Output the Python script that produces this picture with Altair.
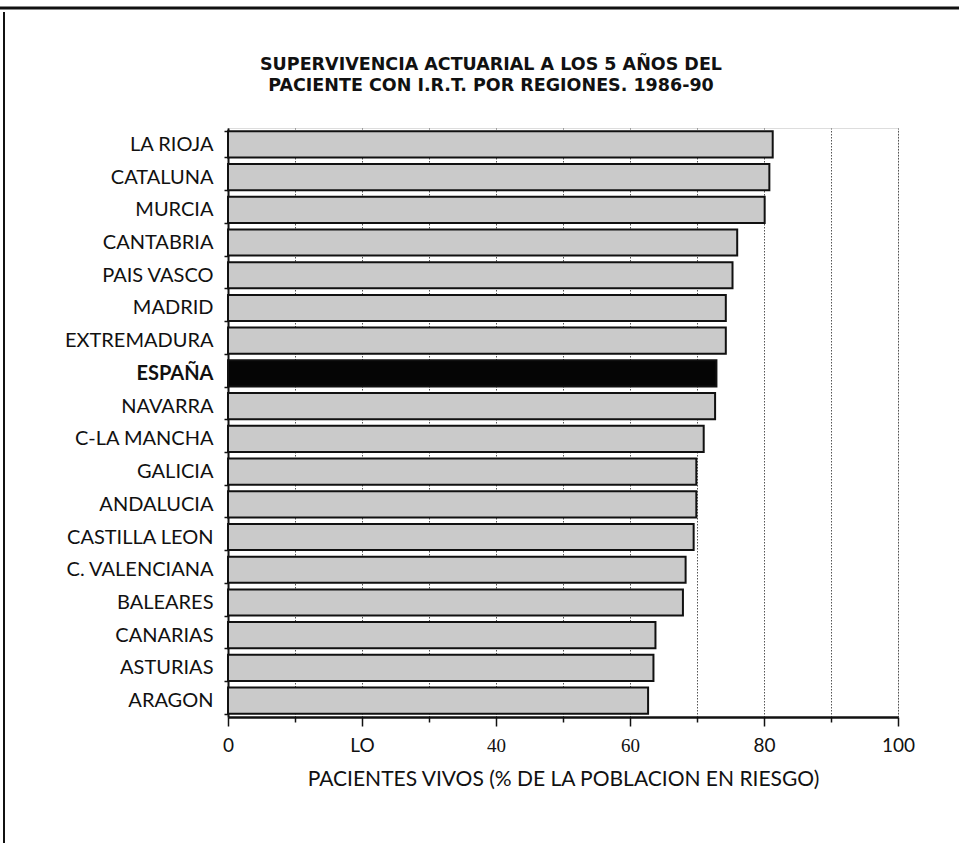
import altair as alt
import pandas as pd

# Five-year actuarial survival of ESRD patients by region, 1986-90
regions = [
    "LA RIOJA", "CATALUNA", "MURCIA", "CANTABRIA", "PAIS VASCO", "MADRID",
    "EXTREMADURA", "ESPAÑA", "NAVARRA", "C-LA MANCHA", "GALICIA", "ANDALUCIA",
    "CASTILLA LEON", "C. VALENCIANA", "BALEARES", "CANARIAS", "ASTURIAS", "ARAGON",
]
survival = [
    81.3, 80.8, 80.1, 76.0, 75.3, 74.3,
    74.3, 72.9, 72.7, 71.0, 69.9, 69.9,
    69.5, 68.3, 67.9, 63.8, 63.5, 62.7,
]
x_ticks = [0, 10, 20, 30, 40, 50, 60, 70, 80, 90, 100]
national = "ESPAÑA"

title_lines = [
    "SUPERVIVENCIA ACTUARIAL A LOS 5 AÑOS DEL",
    "PACIENTE CON I.R.T. POR REGIONES. 1986-90",
]
x_title = "PACIENTES VIVOS (% DE LA POBLACION EN RIESGO)"

W, H = 670, 589
LABEL_FONT = "Lato"

df = pd.DataFrame({"region": regions, "survival": survival})
df["is_national"] = df["region"] == national

bars = alt.Chart(df).mark_bar(stroke="#111111", strokeWidth=2).encode(
    y=alt.Y(
        "region:N",
        sort=None,
        title=None,
        scale=alt.Scale(paddingInner=0.2, paddingOuter=0.1),
        axis=alt.Axis(
            domainColor="#111111",
            domainWidth=2,
            tickBand="extent",
            tickColor="#111111",
            tickSize=4,
            tickWidth=1.5,
            labelFont=LABEL_FONT,
            labelFontSize=20,
            labelColor="#111111",
            labelPadding=11,
            labelFontWeight={
                "condition": {"test": f"datum.value === '{national}'", "value": "bold"},
                "value": "normal",
            },
            grid=False,
        ),
    ),
    x=alt.X(
        "survival:Q",
        title=x_title,
        scale=alt.Scale(domain=[0, 100], nice=False),
        axis=alt.Axis(
            values=x_ticks,
            labelExpr="datum.value % 20 !== 0 ? '' : (datum.value === 20 ? 'LO' : datum.label)",
            labelFont={
                "condition": {"test": "datum.value === 40 || datum.value === 60", "value": "Liberation Serif"},
                "value": LABEL_FONT,
            },
            labelFontSize=19,
            labelColor="#111111",
            labelPadding=10,
            labelFlush=False,
            domainColor="#111111",
            domainWidth=2.5,
            tickColor="#111111",
            tickWidth=1.5,
            tickSize={
                "condition": {"test": "datum.value % 20 === 0", "value": 9},
                "value": 5,
            },
            grid=True,
            gridColor="#555555",
            gridDash=[1.5, 1.5],
            gridWidth=1,
            titleFont=LABEL_FONT,
            titleFontSize=21,
            titleFontWeight="normal",
            titleColor="#111111",
            titlePadding=13,
        ),
    ),
    color=alt.Color(
        "is_national:N",
        scale=alt.Scale(domain=[False, True], range=["#cacaca", "#050505"]),
        legend=None,
    ),
)

# Two-line heading above the plot
def heading_line(text, y):
    return alt.Chart(pd.DataFrame({"t": [text]})).mark_text(
        font="DejaVu Sans",
        fontSize=17.5,
        fontWeight="bold",
        color="#111111",
        align="center",
        baseline="middle",
    ).encode(text="t:N", x=alt.value(263), y=alt.value(y))

heading = [heading_line(title_lines[0], -63), heading_line(title_lines[1], -42)]

# Page frame: a heavy rule across the top and one down the left edge
frame_df = pd.DataFrame({"k": [0]})
top_rule = alt.Chart(frame_df).mark_rule(color="#111111", strokeWidth=3).encode(
    x=alt.value(-228), x2=alt.value(W + 61), y=alt.value(-120)
)
left_rule = alt.Chart(frame_df).mark_rule(color="#111111", strokeWidth=2).encode(
    x=alt.value(-224), y=alt.value(-116), y2=alt.value(H + 126)
)

chart = (
    alt.layer(bars, *heading, top_rule, left_rule)
    .properties(
        width=W,
        height=H,
        autosize=alt.AutoSizeParams(type="none"),
        padding={"left": 228, "top": 128, "right": 61, "bottom": 126},
    )
    .configure_view(stroke="#111111", strokeWidth=2)
    .configure(background="white")
)

chart.save("out.html", embed_options={"renderer": "svg", "actions": False})
